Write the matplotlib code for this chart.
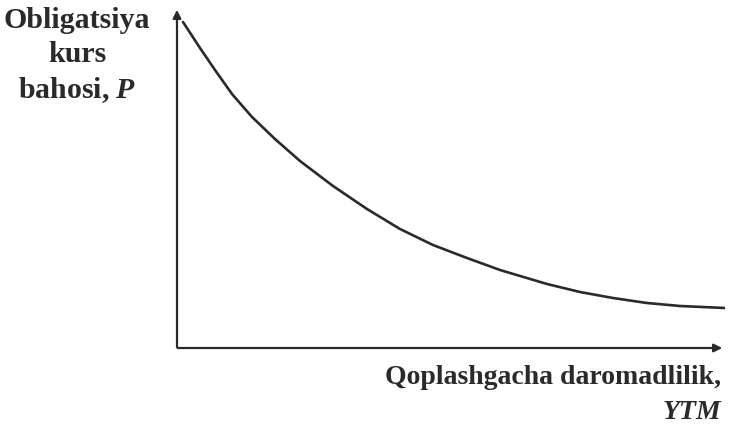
import matplotlib
matplotlib.use('Agg')
import matplotlib.pyplot as plt

# egri chiziq nuqtalari (koordinatalar boshidan, taxminiy)
ytm = [6, 23, 38, 55, 75, 98, 123, 156, 190, 223, 256, 290, 323, 370, 403, 436, 470, 503, 548]
price = [326, 300, 278, 254, 231, 209, 187, 162, 139, 119, 103, 90, 78, 64, 56, 50, 45, 42, 40]

plt.rcParams['font.family'] = ['Liberation Serif', 'DejaVu Serif']
plt.rcParams['mathtext.fontset'] = 'custom'
plt.rcParams['mathtext.bfit'] = 'Liberation Serif:italic:bold'

fig = plt.figure(figsize=(7.4, 4.27), dpi=100)
ax = fig.add_axes([177 / 740, (427 - 349) / 427, (725 - 177) / 740, (349 - 8) / 427])
ax.set_xlim(0, 548)
ax.set_ylim(0, 341)
ax.axis('off')

ax.plot(ytm, price, color='#2a2a2a', lw=1.9, solid_capstyle='round', solid_joinstyle='round')

# o'qlar
arrow = dict(arrowstyle='-|>', color='#2a2a2a', lw=1.6, mutation_scale=12)
ax.annotate('', xy=(548, 0), xytext=(-2, 0), arrowprops=arrow, annotation_clip=False)
ax.annotate('', xy=(0, 341), xytext=(0, -2), arrowprops=arrow, annotation_clip=False)

fig.text(77 / 740, 1 - 7 / 427, 'Obligatsiya\nkurs\nbahosi, $\\mathbfit{P}$',
         ha='center', va='top', linespacing=1.32, fontsize=21.5,
         fontweight='bold', color='#2a2a2a')
fig.text(721 / 740, 1 - 378 / 427, 'Qoplashgacha daromadlilik,', ha='right', va='center',
         fontsize=20, fontweight='bold', color='#2a2a2a')
fig.text(721 / 740, 1 - 413 / 427, 'YTM', ha='right', va='center', style='italic',
         fontsize=20, fontweight='bold', color='#2a2a2a')

fig.savefig('out.png', dpi=100, facecolor='white')
